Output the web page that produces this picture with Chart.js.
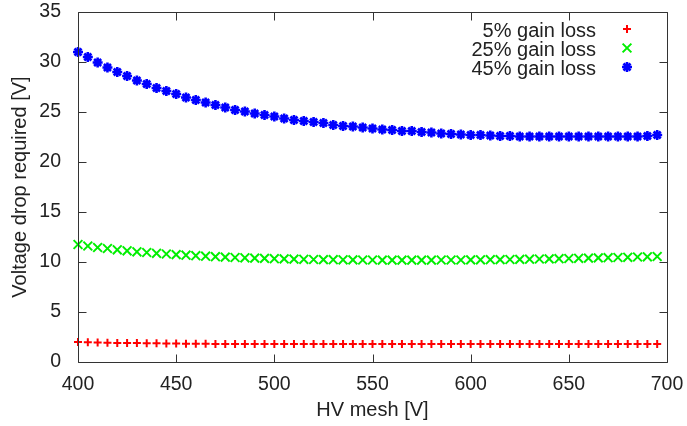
<!DOCTYPE html>
<html>
<head>
<meta charset="utf-8">
<script src="https://cdn.jsdelivr.net/npm/chart.js@4.4.1/dist/chart.umd.min.js"></script>
<style>
html,body{margin:0;padding:0;background:#fff;}
#wrap{width:687px;height:426px;}
</style>
</head>
<body>
<div id="wrap"><canvas id="c" width="687" height="426"></canvas></div>
<script>
const hvMesh = [400,405,410,415,420,425,430,435,440,445,450,455,460,465,470,475,480,485,490,495,
  500,505,510,515,520,525,530,535,540,545,550,555,560,565,570,575,580,585,590,595,
  600,605,610,615,620,625,630,635,640,645,650,655,660,665,670,675,680,685,690,695];
const loss5 = [2.0,1.98,1.95,1.93,1.91,1.9,1.89,1.88,1.87,1.86,1.86,1.83,1.82,1.82,1.81,1.81,1.81,1.8,1.8,1.8,
  1.8,1.8,1.8,1.8,1.8,1.8,1.8,1.8,1.8,1.8,1.8,1.8,1.8,1.8,1.8,1.8,1.8,1.8,1.8,1.8,
  1.8,1.8,1.8,1.8,1.8,1.8,1.8,1.8,1.8,1.8,1.8,1.8,1.8,1.8,1.8,1.8,1.8,1.8,1.8,1.8];
const loss25 = [11.75,11.6,11.45,11.35,11.22,11.12,11.02,10.95,10.87,10.8,10.74,10.68,10.63,10.58,10.53,10.49,10.45,10.42,10.39,10.36,
  10.33,10.31,10.29,10.27,10.25,10.24,10.23,10.22,10.21,10.2,10.2,10.19,10.19,10.19,10.19,10.19,10.19,10.2,10.2,10.2,
  10.21,10.22,10.23,10.24,10.25,10.26,10.28,10.3,10.31,10.33,10.35,10.37,10.39,10.41,10.43,10.45,10.47,10.5,10.52,10.55];
const loss45 = [31.0,30.5,29.95,29.45,29.0,28.6,28.15,27.8,27.4,27.1,26.8,26.45,26.2,25.95,25.7,25.45,25.2,25.05,24.85,24.7,
  24.55,24.35,24.2,24.1,24.0,23.9,23.7,23.6,23.55,23.45,23.35,23.25,23.2,23.1,23.1,23.0,22.95,22.85,22.8,22.75,
  22.7,22.7,22.65,22.6,22.6,22.55,22.55,22.55,22.55,22.55,22.55,22.55,22.55,22.55,22.55,22.55,22.55,22.55,22.6,22.7];
const seriesLabels = ['5% gain loss','25% gain loss','45% gain loss'];
const xTitle = 'HV mesh [V]';
const yTitle = 'Voltage drop required [V]';

const FONT = '"Liberation Sans", Arial, sans-serif';
const TXT = '#222';

function pts(ys){ return hvMesh.map((x,i)=>({x:x,y:ys[i]})); }

const frame = {
  id:'frame',
  afterDraw(chart){
    const ctx = chart.ctx, a = chart.chartArea;
    const xs = chart.scales.x, ys = chart.scales.y;
    ctx.save();
    ctx.strokeStyle = '#333';
    ctx.lineWidth = 1;
    ctx.beginPath();
    const L = Math.round(a.left)+0.5, R = Math.round(a.right)+0.5, T = Math.round(a.top)+0.5, B = Math.round(a.bottom)+0.5;
    ctx.rect(L, T, R-L, B-T);
    const tl = 8;
    xs.ticks.forEach(t=>{
      const px = Math.round(xs.getPixelForValue(t.value))+0.5;
      ctx.moveTo(px,B); ctx.lineTo(px,B-tl);
      ctx.moveTo(px,T); ctx.lineTo(px,T+tl);
    });
    ys.ticks.forEach(t=>{
      const py = Math.round(ys.getPixelForValue(t.value))+0.5;
      ctx.moveTo(L,py); ctx.lineTo(L+tl,py);
      ctx.moveTo(R,py); ctx.lineTo(R-tl,py);
    });
    ctx.stroke();
    ctx.fillStyle = TXT;
    ctx.font = '20px ' + FONT;
    ctx.textAlign = 'center';
    ctx.textBaseline = 'middle';
    ctx.fillText(xTitle, (a.left+a.right)/2, 410);
    ctx.save();
    ctx.translate(20, (a.top+a.bottom)/2);
    ctx.rotate(-Math.PI/2);
    ctx.fillText(yTitle, 0, 0);
    ctx.restore();
    const rowY = [30, 49, 68];
    chart.data.datasets.forEach((ds,i)=>{
      ctx.textAlign = 'right';
      ctx.fillStyle = TXT;
      ctx.fillText(ds.label, 596, rowY[i]+1);
      ctx.save();
      ctx.strokeStyle = ds.borderColor;
      ctx.fillStyle = ds.borderColor;
      ctx.lineWidth = ds.pointBorderWidth;
      Chart.helpers.drawPoint(ctx, {pointStyle: ds.pointStyle, radius: ds.pointRadius, borderWidth: ds.pointBorderWidth}, 627, rowY[i]-1);
      ctx.restore();
    });
    ctx.restore();
  }
};

new Chart(document.getElementById('c'), {
  type:'scatter',
  data:{
    datasets:[
      {label:seriesLabels[0], data:pts(loss5), pointStyle:'cross', pointRadius:4, pointBorderWidth:2,
        borderColor:'#ff0000', backgroundColor:'#ff0000', showLine:false, clip:false},
      {label:seriesLabels[1], data:pts(loss25), pointStyle:'crossRot', pointRadius:6.2, pointBorderWidth:2,
        borderColor:'#00ee00', backgroundColor:'#00ee00', showLine:false, clip:false},
      {label:seriesLabels[2], data:pts(loss45), pointStyle:'star', pointRadius:5, pointBorderWidth:2.6,
        borderColor:'#0000ff', backgroundColor:'#0000ff', showLine:false, clip:false}
    ]
  },
  options:{
    responsive:false,
    animation:false,
    events:[],
    layout:{padding:{top:12,right:20,left:0,bottom:0}},
    plugins:{legend:{display:false}, tooltip:{enabled:false}, title:{display:false}},
    scales:{
      x:{type:'linear', min:400, max:700,
        grid:{display:false}, border:{display:false},
        ticks:{stepSize:50, color:TXT, font:{family:FONT, size:19.5}, padding:3, maxRotation:0},
        afterFit(s){ s.height = 64; s.paddingLeft = 0; s.paddingRight = 0; }
      },
      y:{type:'linear', min:0, max:35,
        grid:{display:false}, border:{display:false},
        ticks:{stepSize:5, color:TXT, font:{family:FONT, size:19.5}, padding:9},
        afterFit(s){ s.width = 78; s.paddingTop = 0; s.paddingBottom = 0; }
      }
    }
  },
  plugins:[frame]
});
</script>
</body>
</html>
